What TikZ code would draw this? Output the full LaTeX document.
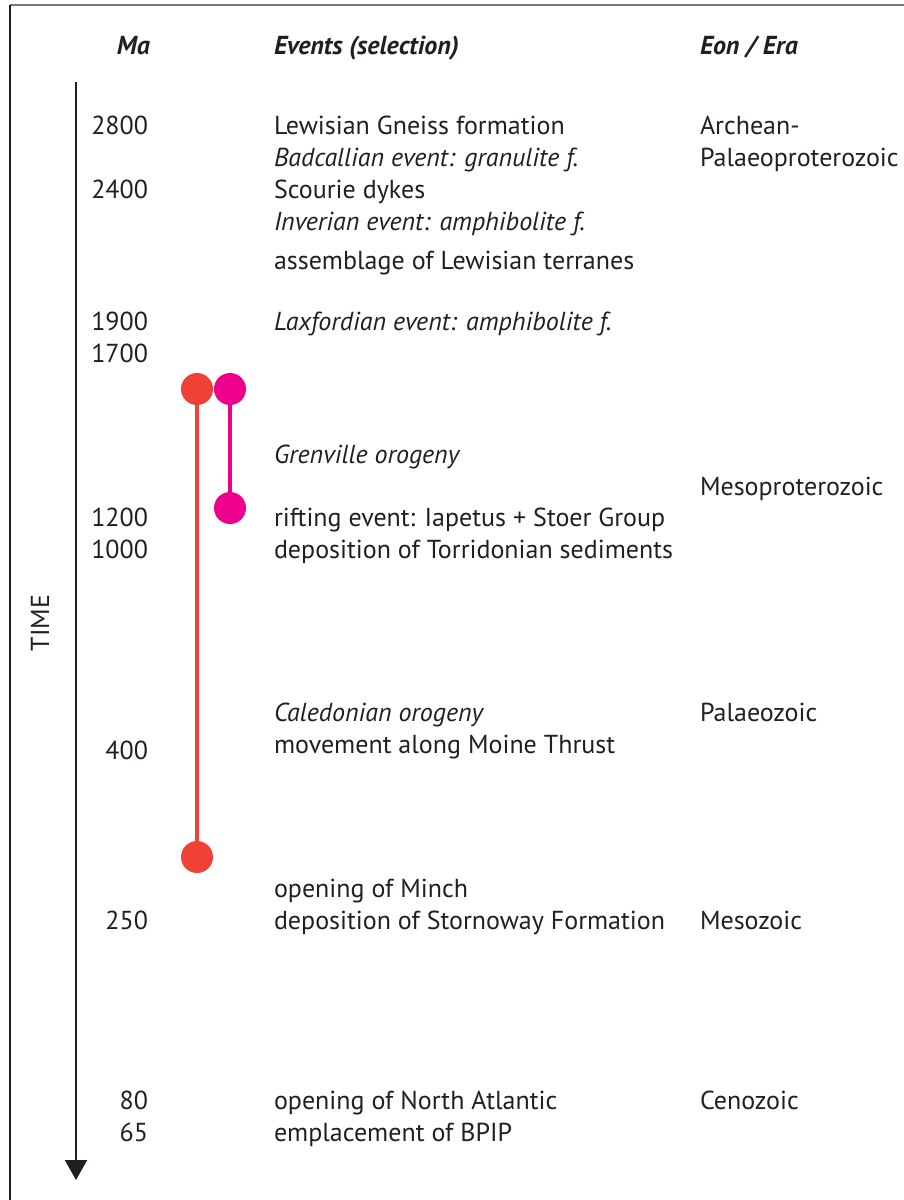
\documentclass[tikz,border=0pt]{standalone}
\usepackage{fontspec}
\setmainfont{PT Sans}
\usepackage{xcolor}
\usetikzlibrary{arrows.meta}

\definecolor{inkgray}{HTML}{231F20}
\definecolor{framegray}{HTML}{777777}
\definecolor{rangered}{HTML}{EF4136}
\definecolor{rangepink}{HTML}{EC008C}

\begin{document}
\begin{tikzpicture}[x=1pt, y=-1pt,
    every node/.style={inner sep=0pt, outer sep=0pt, text=inkgray, font=\fontsize{26}{30}\selectfont},
    header/.style={anchor=base west, font=\fontsize{26}{30}\selectfont\bfseries\itshape},
    agelabel/.style={anchor=base east},
    eventlabel/.style={anchor=base west},
    eralabel/.style={anchor=base west},
    rangedot/.style={circle, minimum size=32pt, inner sep=0pt}]
    \useasboundingbox (0,0) rectangle (904,1200);

    % Frame
    \draw[framegray, line width=1.5pt] (10,5) -- (904,5);
    \draw[inkgray, line width=1.5pt] (10,5) -- (10,1200);

    % Column headers
    \node[header, anchor=base east] (hma) at (150,54) {Ma};
    \node[header] (hevents) at (274,54) {Events (selection)};
    \node[header] (hera) at (700,54) {Eon / Era};

    % Time axis
    \coordinate (timetop) at (76,82);
    \coordinate (timebot) at (76,1180);
    \draw[inkgray, line width=2pt, -{Triangle[width=22pt,length=20pt]}] (timetop) -- (timebot);
    \node[rotate=90] (timelabel) at (40,623) {TIME};

    % Ages (Ma)
    \node[agelabel] (a2800) at (148,134) {2800};
    \node[agelabel] (a2400) at (148,198) {2400};
    \node[agelabel] (a1900) at (148,330) {1900};
    \node[agelabel] (a1700) at (148,362) {1700};
    \node[agelabel] (a1200) at (148,526) {1200};
    \node[agelabel] (a1000) at (148,558) {1000};
    \node[agelabel] (a400) at (148,759) {400};
    \node[agelabel] (a250) at (148,929) {250};
    \node[agelabel] (a80) at (148,1109) {80};
    \node[agelabel] (a65) at (148,1141) {65};

    % Events
    \node[eventlabel] (lewisian) at (274,134) {Lewisian Gneiss formation};
    \node[eventlabel] (badcall) at (274,166) {\itshape Badcallian event: granulite f.};
    \node[eventlabel] (scourie) at (274,198) {Scourie dykes};
    \node[eventlabel] (inverian) at (274,230) {\itshape Inverian event: amphibolite f.};
    \node[eventlabel] (assembl) at (274,269) {assemblage of Lewisian terranes};
    \node[eventlabel] (laxford) at (274,330) {\itshape Laxfordian event: amphibolite f.};
    \node[eventlabel] (grenville) at (274,463) {\itshape Grenville orogeny};
    \node[eventlabel] (rifting) at (274,526) {rifting event: Iapetus + Stoer Group};
    \node[eventlabel] (torridon) at (274,558) {deposition of Torridonian sediments};
    \node[eventlabel] (caledon) at (274,721) {\itshape Caledonian orogeny};
    \node[eventlabel] (moine) at (274,753) {movement along Moine Thrust};
    \node[eventlabel] (minch) at (274,897) {opening of Minch};
    \node[eventlabel] (stornoway) at (274,929) {deposition of Stornoway Formation};
    \node[eventlabel] (atlantic) at (274,1109) {opening of North Atlantic};
    \node[eventlabel] (bpip) at (274,1141) {emplacement of BPIP};

    % Eons / eras
    \node[eralabel] (archean) at (700,134) {Archean-};
    \node[eralabel] (palaeoprot) at (700,166) {Palaeoproterozoic};
    \node[eralabel] (mesoprot) at (700,495) {Mesoproterozoic};
    \node[eralabel] (palaeozoic) at (700,721) {Palaeozoic};
    \node[eralabel] (mesozoic) at (700,929) {Mesozoic};
    \node[eralabel] (cenozoic) at (700,1109) {Cenozoic};

    % Age ranges
    \node[rangedot, fill=rangered] (redtop) at (197,389) {};
    \node[rangedot, fill=rangered] (redbot) at (197,857) {};
    \draw[rangered, line width=4pt] (redtop) -- (redbot);
    \node[rangedot, fill=rangepink] (pinktop) at (230,389) {};
    \node[rangedot, fill=rangepink] (pinkbot) at (230,508) {};
    \draw[rangepink, line width=4pt] (pinktop) -- (pinkbot);
\end{tikzpicture}
\end{document}
